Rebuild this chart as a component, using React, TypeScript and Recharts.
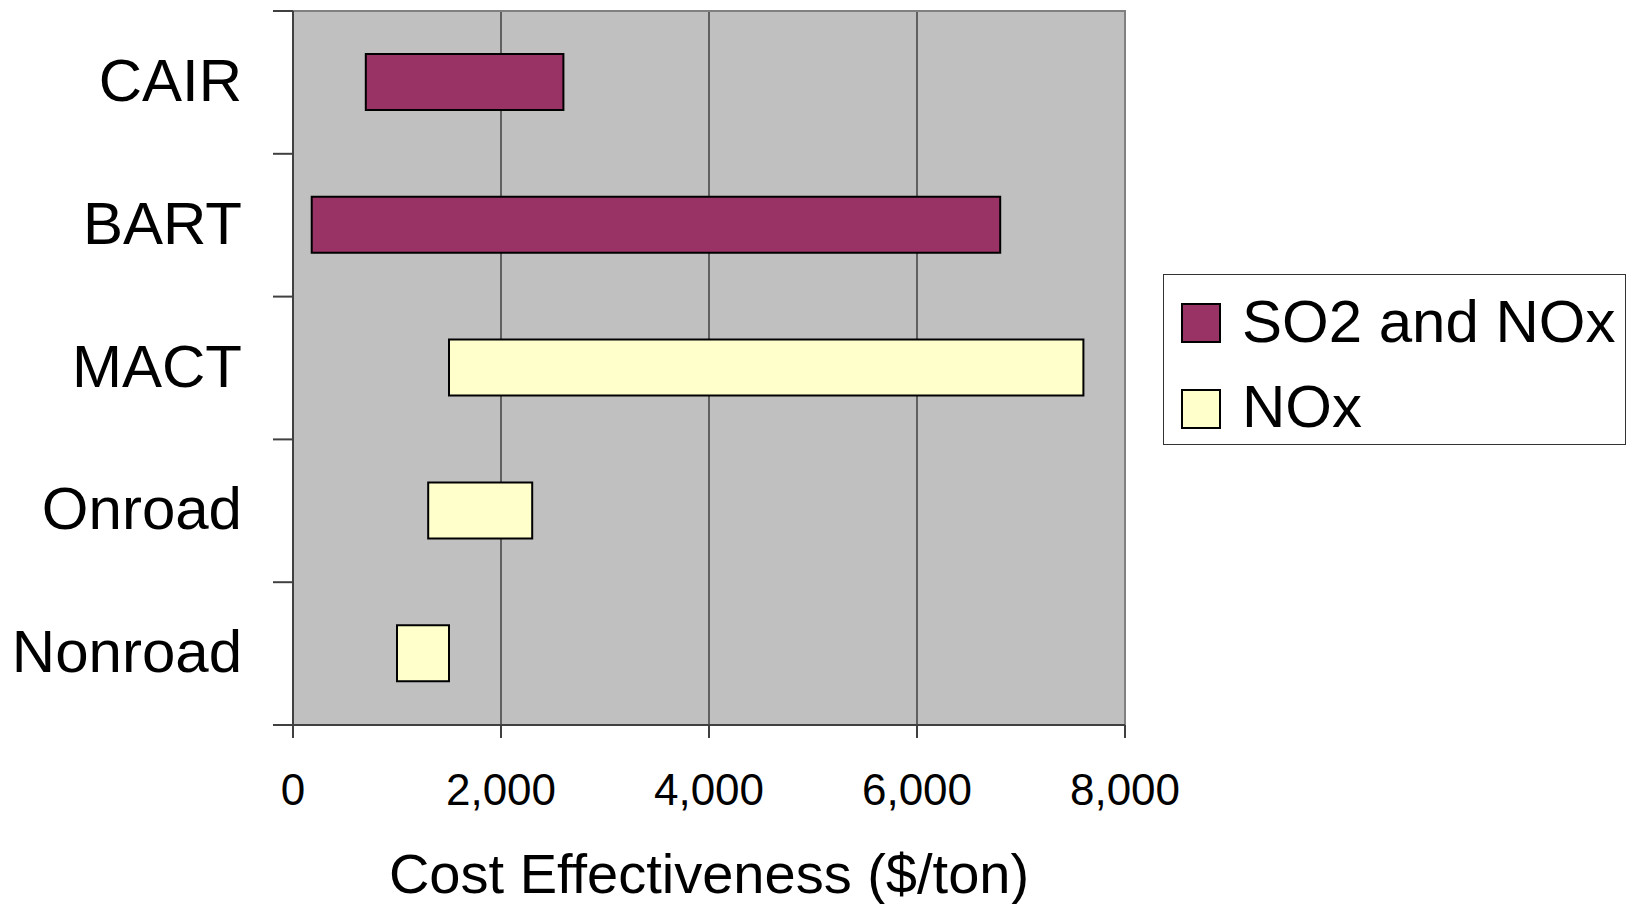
import React from "react";
import { Bar, BarChart, CartesianGrid, Legend, ReferenceArea, XAxis, YAxis } from "recharts";

const programs = ["CAIR", "BART", "MACT", "Onroad", "Nonroad"];
const seriesNames = ["SO2 and NOx", "NOx"];
const so2AndNox: (number[] | null)[] = [[700, 2600], [180, 6800], null, null, null];
const noxOnly: (number[] | null)[] = [null, null, [1500, 7600], [1300, 2300], [1000, 1500]];
const xTicks = [0, 2000, 4000, 6000, 8000];

const data = programs.map((name, i) => ({ name, so2: so2AndNox[i], nox: noxOnly[i] }));

const FONT = '"Liberation Sans", Arial, Helvetica, sans-serif';

const CategoryTick = (props: any) => {
  const { x, y, payload, index } = props;
  const half = payload && typeof payload.offset === "number" && payload.offset > 0 ? payload.offset : 71.4;
  return (
    <g>
      <line x1={x - 20} x2={x} y1={y - half} y2={y - half} stroke="#404040" strokeWidth={2} />
      {index === programs.length - 1 && (
        <line x1={x - 20} x2={x} y1={y + half} y2={y + half} stroke="#404040" strokeWidth={2} />
      )}
      <text x={x - 51} y={y} dy="0.31em" textAnchor="end" fontSize={60} fontFamily={FONT} fill="#000">
        {payload.value}
      </text>
    </g>
  );
};

const LegendBox = (props: any) => {
  const items = (props.payload || [])
    .filter((p: any) => p.type !== "none")
    .slice()
    .sort((a: any, b: any) => seriesNames.indexOf(a.value) - seriesNames.indexOf(b.value));
  return (
    <svg width={464} height={172} style={{ display: "block" }}>
      <rect x={0.5} y={0.5} width={462} height={170} fill="#fff" stroke="#333" strokeWidth={1} />
      {items.map((p: any, i: number) => (
        <g key={p.value}>
          <rect x={19} y={30 + i * 86} width={38} height={38} fill={p.color} stroke="#000" strokeWidth={2} />
          <text x={79} y={68 + i * 85} fontSize={60} fontFamily={FONT} fill="#000">
            {p.value}
          </text>
        </g>
      ))}
    </svg>
  );
};

export default function App() {
  return (
    <div style={{ width: 1634, height: 904, background: "#fff" }}>
      <style>{`body{margin:0;overflow:hidden}`}</style>
      <BarChart
        width={1634}
        height={904}
        data={data}
        layout="vertical"
        margin={{ top: 11, right: 509, left: 0, bottom: 0 }}
        barGap={-56}
      >
        <CartesianGrid horizontal={false} stroke="#000" strokeWidth={1} fill="#C0C0C0" fillOpacity={1} />
        <ReferenceArea x1={0} x2={8000} fill="none" stroke="#808080" strokeWidth={2} ifOverflow="visible" />
        <XAxis
          type="number"
          domain={[0, 8000]}
          ticks={xTicks}
          interval={0}
          height={179}
          tickSize={13}
          tickMargin={36}
          axisLine={{ stroke: "#404040", strokeWidth: 2 }}
          tickLine={{ stroke: "#404040", strokeWidth: 2 }}
          tick={{ fontSize: 44, fontFamily: FONT, fill: "#000" }}
          tickFormatter={(v: number) => v.toLocaleString("en-US")}
          label={{
            content: (p: any) => {
              const vb = p.viewBox || {};
              return (
                <text x={vb.x + vb.width / 2} y={vb.y + vb.height - 11} textAnchor="middle" fontSize={56} fontFamily={FONT} fill="#000">
                  Cost Effectiveness ($/ton)
                </text>
              );
            },
          }}
        />
        <YAxis
          type="category"
          dataKey="name"
          width={293}
          tickSize={0}
          tickMargin={0}
          tickLine={false}
          axisLine={{ stroke: "#404040", strokeWidth: 2 }}
          tick={<CategoryTick />}
          interval={0}
        />
        <Legend
          layout="vertical"
          align="center"
          verticalAlign="middle"
          content={<LegendBox />}
          wrapperStyle={{ position: "absolute", left: 1163, top: 274, width: 464, height: 172 }}
        />
        <Bar dataKey="so2" name={seriesNames[0]} fill="#993366" stroke="#000" strokeWidth={2} barSize={56} isAnimationActive={false} />
        <Bar dataKey="nox" name={seriesNames[1]} fill="#FFFFCC" stroke="#000" strokeWidth={2} barSize={56} isAnimationActive={false} />
      </BarChart>
    </div>
  );
}
